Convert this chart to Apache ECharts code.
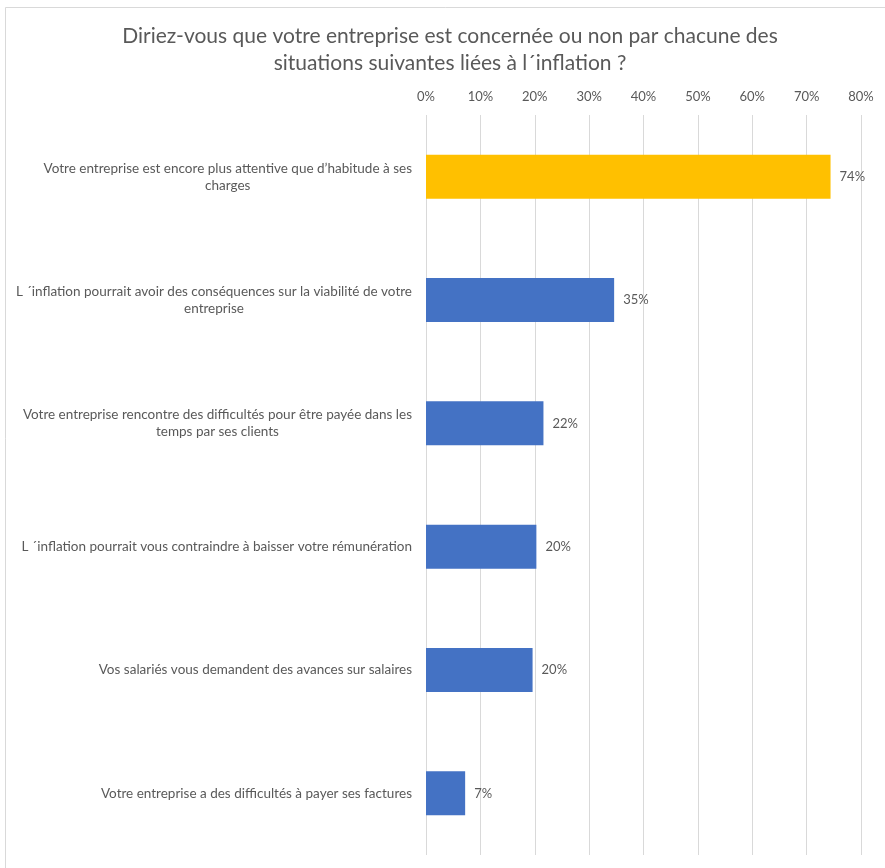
<!DOCTYPE html>
<html>
<head>
<meta charset="utf-8">
<script src="https://cdn.jsdelivr.net/npm/echarts@6/dist/echarts.min.js"></script>
<style>
html,body{margin:0;padding:0;background:#fff;}
#chart{width:885px;height:868px;}
</style>
</head>
<body>
<div id="chart"></div>
<script>
var titleText = "Diriez-vous que votre entreprise est concernée ou non par chacune des\nsituations suivantes liées à l´inflation ?";
var categories = [
  "Votre entreprise est encore plus attentive que d’habitude à ses charges",
  "L ´inflation pourrait avoir des conséquences sur la viabilité de votre entreprise",
  "Votre entreprise rencontre des difficultés pour être payée dans les temps par ses clients",
  "L ´inflation pourrait vous contraindre à baisser votre rémunération",
  "Vos salariés vous demandent des avances sur salaires",
  "Votre entreprise a des difficultés à payer ses factures"
];
var values = [74.4, 34.6, 21.6, 20.3, 19.6, 7.2];
var barColors = ["#FFC000", "#4472C4", "#4472C4", "#4472C4", "#4472C4", "#4472C4"];
var xTicks = [0, 10, 20, 30, 40, 50, 60, 70, 80];

var FONT = "Lato, 'Open Sans', sans-serif";
var LABEL_SIZE = 13.5;
var ctx = document.createElement('canvas').getContext('2d');
ctx.font = LABEL_SIZE + "px " + FONT;
function wrap(text, maxW) {
  var words = text.split(' ');
  var lines = [], cur = '';
  words.forEach(function (w) {
    var t = cur ? cur + ' ' + w : w;
    if (cur && ctx.measureText(t).width > maxW) { lines.push(cur); cur = w; }
    else cur = t;
  });
  if (cur) lines.push(cur);
  return lines;
}

var chart = echarts.init(document.getElementById('chart'));
chart.setOption({
  animation: false,
  backgroundColor: '#fff',
  graphic: [{
    type: 'rect', z: -10,
    shape: {x: 5.5, y: 7.5, width: 2000, height: 2000},
    style: {fill: 'none', stroke: '#D9D9D9', lineWidth: 1}
  }],
  title: {
    text: titleText,
    left: 445, top: 18, textAlign: 'center',
    textStyle: {fontFamily: FONT, fontSize: 21, fontWeight: 'normal', color: '#595959', lineHeight: 27}
  },
  grid: {left: 426, right: 24, top: 115, bottom: 13, containLabel: false},
  xAxis: {
    type: 'value', position: 'top', min: 0, max: 80, interval: 10,
    axisLine: {show: false}, axisTick: {show: false},
    splitLine: {lineStyle: {color: '#D9D9D9', width: 1}},
    axisLabel: {
      margin: 12, color: '#595959', fontFamily: FONT, fontSize: 13,
      formatter: function (v) { return xTicks.indexOf(v) >= 0 ? v + '%' : ''; }
    }
  },
  yAxis: {
    type: 'category', inverse: true, data: categories,
    axisLine: {show: false}, axisTick: {show: false},
    axisLabel: {
      margin: 14, align: 'right', color: '#595959', fontFamily: FONT, fontSize: LABEL_SIZE,
      lineHeight: 17,
      formatter: function (v) {
        return wrap(v, 400).map(function (l) { return '{c|' + l + '}'; }).join('\n');
      },
      rich: {c: {align: 'center', color: '#595959', fontFamily: FONT, fontSize: LABEL_SIZE, lineHeight: 17}}
    }
  },
  series: [{
    type: 'bar',
    data: values.map(function (v, i) { return {value: v, itemStyle: {color: barColors[i]}}; }),
    barWidth: 44,
    label: {
      show: true, position: 'right', distance: 9,
      color: '#595959', fontFamily: FONT, fontSize: 13,
      formatter: function (p) { return Math.round(p.value) + '%'; }
    }
  }]
});
</script>
</body>
</html>
